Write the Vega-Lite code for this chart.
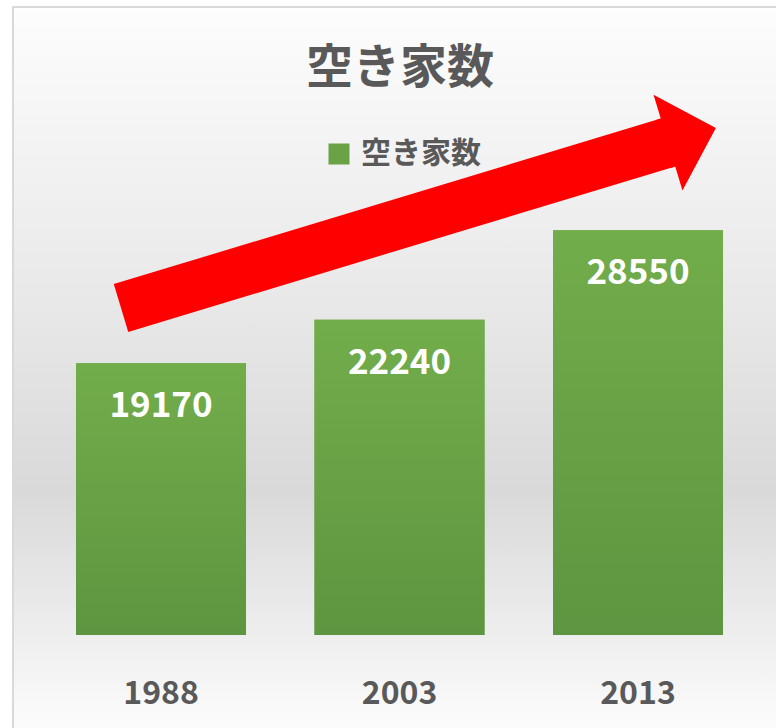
{
  "$schema": "https://vega.github.io/schema/vega-lite/v6.json",
  "width": 765,
  "height": 723,
  "autosize": {"type": "none"},
  "padding": {"left": 13, "top": 7, "right": 0, "bottom": 0},
  "background": "#ffffff",
  "config": {"view": {"stroke": null}, "font": "Noto Sans CJK JP"},
  "title": {
    "text": "空き家数",
    "fontSize": 47,
    "font": "Noto Sans CJK JP",
    "fontWeight": "bold",
    "color": "#595959",
    "anchor": "middle",
    "frame": "group",
    "baseline": "alphabetic",
    "offset": -78,
    "dy": 46,
    "dx": 4.5
  },
  "datasets": {
    "bars": [
      {"year": "1988", "value": 19170},
      {"year": "2003", "value": 22240},
      {"year": "2013", "value": 28550}
    ],
    "arrow": [{"x": 0.1412, "y": 23060, "x2": 0.8562, "y2": 34732}],
    "bg": [{"area": "chart"}]
  },
  "resolve": {"scale": {"x": "independent"}, "axis": {"x": "independent"}},
  "layer": [
    {
      "data": {"name": "bg"},
      "mark": {
        "type": "rect",
        "stroke": "#d9d9d9",
        "strokeWidth": 2,
        "fill": {
          "gradient": "linear",
          "x1": 0, "y1": 0, "x2": 0, "y2": 1,
          "stops": [
            {"offset": 0, "color": "#fdfdfd"},
            {"offset": 0.45, "color": "#e6e6e6"},
            {"offset": 0.67, "color": "#d9d9d9"},
            {"offset": 1, "color": "#fcfcfc"}
          ]
        }
      },
      "encoding": {}
    },
    {
      "data": {"name": "bars"},
      "encoding": {
        "x": {
          "field": "year",
          "type": "nominal",
          "scale": {"paddingInner": 0.2872, "paddingOuter": 0.2474, "align": 0.534},
          "axis": {
            "title": null,
            "domain": false,
            "ticks": false,
            "grid": false,
            "zindex": 2,
            "labelAngle": 0,
            "labelFont": "Noto Sans CJK JP",
            "labelFontSize": 32,
            "labelFontWeight": "bold",
            "labelColor": "#595959",
            "labelPadding": 43,
            "offset": -95
          }
        },
        "y": {
          "field": "value",
          "type": "quantitative",
          "scale": {"domain": [-6700, 44290], "nice": false, "zero": false},
          "axis": null
        }
      },
      "layer": [
        {
          "mark": {"type": "bar"},
          "encoding": {
            "color": {
              "datum": "空き家数",
              "type": "nominal",
              "scale": {"range": ["#69a345"]},
              "legend": {
                "orient": "none",
                "legendX": 311,
                "legendY": 132,
                "title": null,
                "padding": 0,
                "symbolType": "square",
                "symbolSize": 441,
                "symbolStrokeWidth": 0,
                "labelFont": "Noto Sans CJK JP",
                "labelFontSize": 30,
                "labelFontWeight": "bold",
                "labelColor": "#595959",
                "labelOffset": 7
              }
            }
          }
        },
        {
          "mark": {
            "type": "bar",
            "fill": {
              "gradient": "linear",
              "x1": 0, "y1": 0, "x2": 0, "y2": 1,
              "stops": [
                {"offset": 0, "color": "#72ad4b"},
                {"offset": 1, "color": "#5e9540"}
              ]
            }
          }
        },
        {
          "mark": {
            "type": "text",
            "baseline": "alphabetic",
            "dy": 54,
            "fill": "#ffffff",
            "font": "Noto Sans CJK JP",
            "fontSize": 35,
            "fontWeight": "bold"
          },
          "encoding": {"text": {"field": "value", "type": "quantitative", "format": "d"}}
        }
      ]
    },
    {
      "data": {"name": "arrow"},
      "encoding": {
        "y": {
          "field": "y",
          "type": "quantitative",
          "scale": {"domain": [-6700, 44290], "nice": false, "zero": false},
          "axis": null
        }
      },
      "layer": [
        {
          "mark": {"type": "rule", "color": "#ff0000", "strokeWidth": 50, "strokeCap": "butt"},
          "encoding": {
            "x": {"field": "x", "type": "quantitative", "scale": {"domain": [0, 1], "nice": false, "zero": false}, "axis": null},
            "x2": {"field": "x2"},
            "y2": {"field": "y2"}
          }
        },
        {
          "mark": {
            "type": "point",
            "shape": "M0,-1L1,0L0,1L0,0.5L-0.1,0.5L-0.1,-0.5L0,-0.5Z",
            "size": 10000,
            "angle": 343.17,
            "filled": true,
            "color": "#ff0000",
            "opacity": 1,
            "strokeWidth": 0
          },
          "encoding": {
            "x": {"field": "x2", "type": "quantitative", "scale": {"domain": [0, 1], "nice": false, "zero": false}, "axis": null},
            "y": {"field": "y2", "type": "quantitative", "scale": {"domain": [-6700, 44290], "nice": false, "zero": false}, "axis": null}
          }
        }
      ]
    }
  ]
}
